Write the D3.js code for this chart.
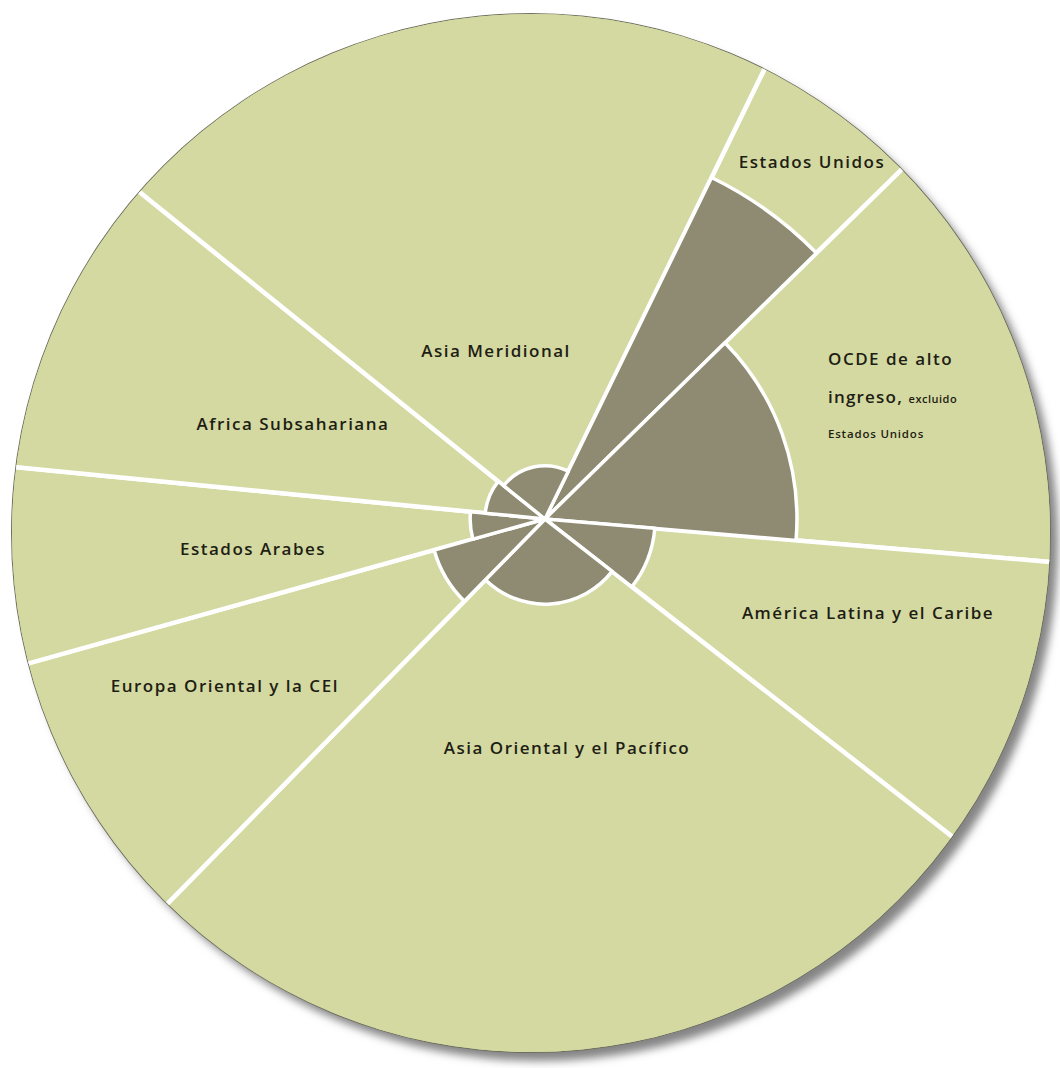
<!DOCTYPE html>
<html>
<head>
<meta charset="utf-8">
<script src="https://cdn.jsdelivr.net/npm/d3@7"></script>
<style>
  html, body { margin: 0; padding: 0; background: #ffffff; }
  svg { display: block; }
  .lbl { font-family: "Open Sans", "Noto Sans", sans-serif; font-weight: 600; fill: #1e1e14; }
</style>
</head>
<body>
<svg id="chart" width="1060" height="1068"></svg>
<script>
// Regions in clockwise order starting at the top-right spoke
const regions = ["Estados Unidos", "OCDE de alto ingreso, excluido Estados Unidos",
  "América Latina y el Caribe", "Asia Oriental y el Pacífico", "Europa Oriental y la CEI",
  "Estados Arabes", "Africa Subsahariana", "Asia Meridional"];
// Share of world population (%) -> slice angle
const populationShare = [5.44, 13.69, 9.19, 26.81, 8.31, 5.89, 9.25, 21.42];
// Relative income value -> inner wedge radius (index, US = 100)
const incomeValue = [100, 66.3, 29, 22.4, 30.3, 19.7, 15.8, 14];
const startDeg = 26;

const svg = d3.select("#chart");
const circ = { cx: 531, cy: 533, r: 519 };
const C = { x: 545, y: 519 };

const green = "#d4d9a1";
const dark = "#8e8b72";

const defs = svg.append("defs");
defs.append("clipPath").attr("id", "disc")
  .append("circle").attr("cx", circ.cx).attr("cy", circ.cy).attr("r", circ.r);
const f = defs.append("filter").attr("id", "blur").attr("x", "-10%").attr("y", "-10%").attr("width", "120%").attr("height", "120%");
f.append("feGaussianBlur").attr("stdDeviation", 4);

// Shadow
svg.append("circle").attr("cx", circ.cx + 8).attr("cy", circ.cy + 9).attr("r", circ.r)
  .attr("fill", "#858585").attr("filter", "url(#blur)");
svg.append("circle").attr("cx", circ.cx).attr("cy", circ.cy).attr("r", circ.r + 1)
  .attr("fill", "#6f7060");
svg.append("circle").attr("cx", circ.cx).attr("cy", circ.cy).attr("r", circ.r)
  .attr("fill", green);

const data = regions.map((name, i) => ({ name, pop: populationShare[i], inc: incomeValue[i] }));
const pie = d3.pie().value(d => d.pop).sort(null)
  .startAngle(startDeg * Math.PI / 180).endAngle(startDeg * Math.PI / 180 + 2 * Math.PI);
const arcs = pie(data);

const rScale = d3.scaleLinear().domain([0, 100]).range([0, 380]);

const g = svg.append("g").attr("clip-path", "url(#disc)")
  .append("g").attr("transform", `translate(${C.x},${C.y})`);

// Outer sectors (clipped by the disc)
const outerArc = d3.arc().innerRadius(0).outerRadius(900);
g.selectAll("path.outer").data(arcs).join("path")
  .attr("class", "outer")
  .attr("d", outerArc)
  .attr("fill", green)
  .attr("stroke", "#ffffff").attr("stroke-width", 4.5).attr("stroke-linejoin", "round");

// Inner wedges
const innerArc = d3.arc().innerRadius(0).outerRadius(d => rScale(d.data.inc));
g.selectAll("path.inner").data(arcs).join("path")
  .attr("class", "inner")
  .attr("d", innerArc)
  .attr("fill", dark)
  .attr("stroke", "#ffffff").attr("stroke-width", 3.5).attr("stroke-linejoin", "round");

// Labels
const labels = [
  { t: "Estados Unidos", x: 812, y: 168 },
  { t: "Asia Meridional", x: 496, y: 357 },
  { t: "Africa Subsahariana", x: 293, y: 430 },
  { t: "Estados Arabes", x: 253, y: 555 },
  { t: "Europa Oriental y la CEI", x: 225, y: 692 },
  { t: "Asia Oriental y el Pacífico", x: 567, y: 754 },
  { t: "América Latina y el Caribe", x: 868, y: 619 }
];
svg.selectAll("text.main").data(labels).join("text")
  .attr("class", "lbl main")
  .attr("x", d => d.x).attr("y", d => d.y)
  .attr("text-anchor", "middle")
  .attr("font-size", 17)
  .attr("letter-spacing", 1.5)
  .text(d => d.t);

const oc = svg.append("g");
oc.append("text").attr("class", "lbl").attr("x", 828).attr("y", 365)
  .attr("font-size", 17).attr("letter-spacing", 1.5).text("OCDE de alto");
const t2 = oc.append("text").attr("class", "lbl").attr("x", 828).attr("y", 403)
  .attr("font-size", 17).attr("letter-spacing", 1.2);
t2.append("tspan").text("ingreso, ");
t2.append("tspan").attr("font-size", 11).attr("letter-spacing", 0.5).text("excluido");
oc.append("text").attr("class", "lbl").attr("x", 828).attr("y", 438)
  .attr("font-size", 11.5).attr("letter-spacing", 0.8).text("Estados Unidos");
</script>
</body>
</html>
